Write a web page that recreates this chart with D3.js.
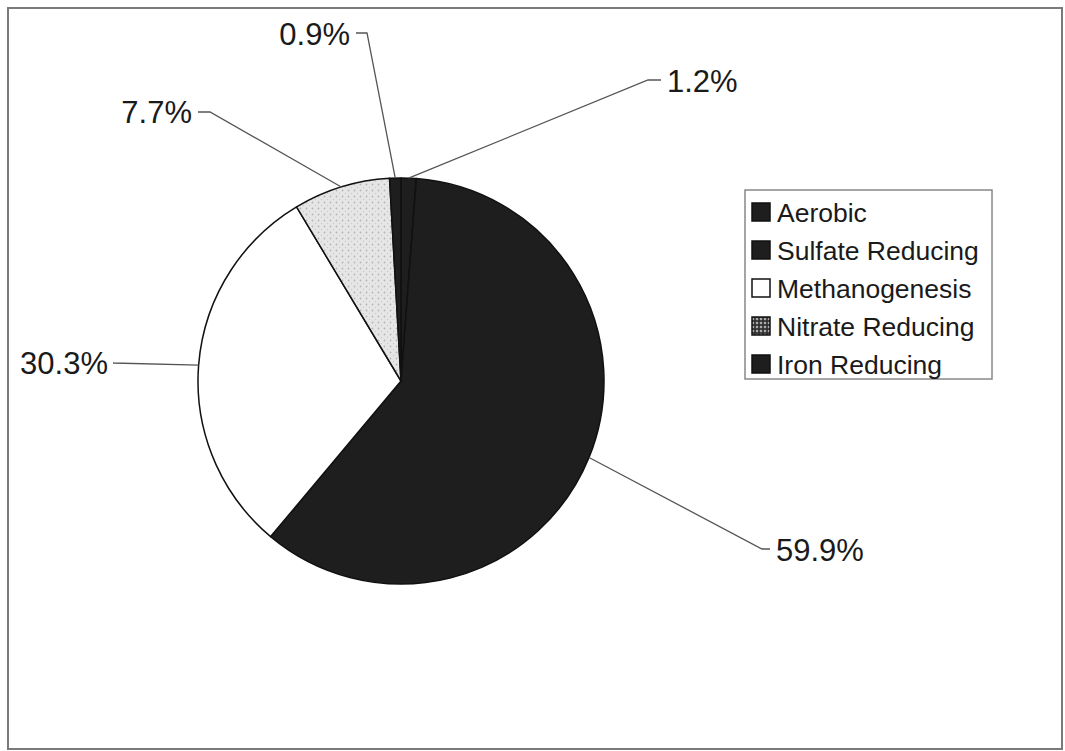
<!DOCTYPE html>
<html>
<head>
<meta charset="utf-8">
<script src="https://cdn.jsdelivr.net/npm/d3@7"></script>
<style>
  body { margin: 0; background: #fff; }
  svg text { font-family: "Liberation Sans", Arial, sans-serif; fill: #1a1a1a; }
</style>
</head>
<body>
<div class="chart"></div>
<script>
(function() {
  'use strict';

  const WIDTH = 1065;
  const HEIGHT = 751;

  // Data, in legend order (pie goes clockwise from 12 o'clock)
  const CATEGORIES = ['Aerobic', 'Sulfate Reducing', 'Methanogenesis', 'Nitrate Reducing', 'Iron Reducing'];
  const VALUES = [1.2, 59.9, 30.3, 7.7, 0.9];
  const LABELS = ['1.2%', '59.9%', '30.3%', '7.7%', '0.9%'];

  // Label layout: elbow point of leader, text anchor side
  const LABEL_POS = [
    { ex: 648, ey: 80, tx: 667, ty: 81, anchor: 'start' },
    { ex: 762, ey: 549, tx: 776, ty: 550, anchor: 'start' },
    { ex: 113, ey: 363, tx: 108, ty: 363, anchor: 'end' },
    { ex: 210, ey: 112, tx: 192, ty: 112, anchor: 'end' },
    { ex: 367, ey: 33, tx: 350, ty: 34, anchor: 'end' }
  ];

  const FILLS = ['#1e1e1e', '#1e1e1e', '#ffffff', 'url(#speckle)', '#1e1e1e'];
  const SWATCH = ['#1e1e1e', '#1e1e1e', '#ffffff', 'url(#speckleDark)', '#1e1e1e'];

  const cx = 401, cy = 381, r = 203;

  const svg = d3.select('.chart')
    .append('svg')
    .attr('width', WIDTH)
    .attr('height', HEIGHT);

  // Patterns for the nitrate slice
  const defs = svg.append('defs');
  const p = defs.append('pattern')
    .attr('id', 'speckle')
    .attr('width', 6).attr('height', 6)
    .attr('patternUnits', 'userSpaceOnUse');
  p.append('rect').attr('width', 6).attr('height', 6).attr('fill', '#e6e6e6');
  p.append('circle').attr('cx', 1.5).attr('cy', 1.5).attr('r', 0.9).attr('fill', '#b5b5b5');
  p.append('circle').attr('cx', 4.5).attr('cy', 4.5).attr('r', 0.7).attr('fill', '#c8c8c8');

  const pd = defs.append('pattern')
    .attr('id', 'speckleDark')
    .attr('width', 4).attr('height', 4)
    .attr('patternUnits', 'userSpaceOnUse');
  pd.append('rect').attr('width', 4).attr('height', 4).attr('fill', '#444');
  pd.append('circle').attr('cx', 1).attr('cy', 1).attr('r', 0.9).attr('fill', '#ddd');
  pd.append('circle').attr('cx', 3).attr('cy', 3).attr('r', 0.7).attr('fill', '#111');

  // Outer chart border
  svg.append('rect')
    .attr('x', 8).attr('y', 8)
    .attr('width', 1054).attr('height', 741)
    .attr('fill', 'none')
    .attr('stroke', '#7a7a7a')
    .attr('stroke-width', 2);

  const pie = d3.pie().sort(null).value(function(d) { return d; });
  const arcs = pie(VALUES);
  const arc = d3.arc().innerRadius(0).outerRadius(r);

  const g = svg.append('g').attr('transform', 'translate(' + cx + ',' + cy + ')');

  g.selectAll('path.slice')
    .data(arcs)
    .enter()
    .append('path')
    .attr('class', 'slice')
    .attr('d', arc)
    .attr('fill', function(d, i) { return FILLS[i]; })
    .attr('stroke', '#111')
    .attr('stroke-width', 1.5)
    .attr('stroke-linejoin', 'round');

  // Leader lines from slice outer midpoint to elbow to label
  for (let i = 0; i < arcs.length; ++i) {
    const a = (arcs[i].startAngle + arcs[i].endAngle) / 2;
    const ax = cx + r * Math.sin(a);
    const ay = cy - r * Math.cos(a);
    const lp = LABEL_POS[i];
    const hx = lp.anchor === 'start' ? lp.tx - 6 : lp.tx + 6;
    svg.append('path')
      .attr('d', d3.line()([[ax, ay], [lp.ex, lp.ey], [hx, lp.ey]]))
      .attr('fill', 'none')
      .attr('stroke', '#555')
      .attr('stroke-width', 1.3);
    svg.append('text')
      .attr('x', lp.tx)
      .attr('y', lp.ty)
      .attr('dy', '0.36em')
      .attr('text-anchor', lp.anchor)
      .attr('font-size', 31)
      .text(LABELS[i]);
  }

  // Legend
  const lx = 745, ly = 190;
  svg.append('rect')
    .attr('x', lx).attr('y', ly)
    .attr('width', 247).attr('height', 189)
    .attr('fill', '#fff')
    .attr('stroke', '#888')
    .attr('stroke-width', 1.5);

  const rows = svg.append('g').selectAll('g')
    .data(CATEGORIES)
    .enter()
    .append('g')
    .attr('transform', function(d, i) { return 'translate(' + (lx + 7) + ',' + (ly + 22 + i * 38) + ')'; });

  rows.append('rect')
    .attr('x', 0).attr('y', -9)
    .attr('width', 18).attr('height', 18)
    .attr('fill', function(d, i) { return SWATCH[i]; })
    .attr('stroke', '#111')
    .attr('stroke-width', 1.5);

  rows.append('text')
    .attr('x', 25)
    .attr('y', 0)
    .attr('dy', '0.36em')
    .attr('font-size', 26.5)
    .text(function(d) { return d; });
})();
</script>
</body>
</html>
